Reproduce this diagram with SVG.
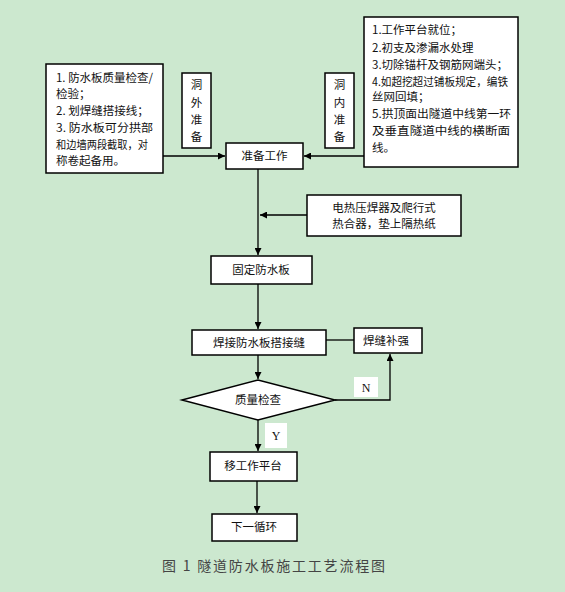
<svg xmlns="http://www.w3.org/2000/svg" width="565" height="592" viewBox="0 0 565 592">
<defs>
<style>
.bx{fill:#fff;stroke:#000;stroke-width:1.5}
.t{font-family:"Noto Sans CJK SC","Noto Sans",sans-serif;font-size:11.5px;fill:#111}
.c{text-anchor:middle}
.ln{fill:none;stroke:#000;stroke-width:1.3}
.lbl{font-family:"Liberation Serif",serif;font-size:12px;fill:#111;text-anchor:middle}
</style>
<marker id="ah" viewBox="0 0 10 10" refX="10" refY="5" markerWidth="7" markerHeight="7" markerUnits="userSpaceOnUse" orient="auto">
<path d="M0,0 L10,5 L0,10 z" fill="#000"/>
</marker>
</defs>
<rect width="565" height="592" fill="#cce8cf"/>

<g id="connectors">
<path class="ln" d="M163,156 H225" marker-end="url(#ah)"/>
<path class="ln" d="M364,156 H304" marker-end="url(#ah)"/>
<path class="ln" d="M258,169 V255" marker-end="url(#ah)"/>
<path class="ln" d="M307,215 H260" marker-end="url(#ah)"/>
<path class="ln" d="M258,284 V329" marker-end="url(#ah)"/>
<path class="ln" d="M258,355 V379" marker-end="url(#ah)"/>
<path class="ln" d="M258,420 V451" marker-end="url(#ah)"/>
<path class="ln" d="M257,481 V513" marker-end="url(#ah)"/>
<path class="ln" d="M326,340 H354"/>
<path class="ln" d="M335,400 H390 V354" marker-end="url(#ah)"/>
<rect x="354" y="377" width="24" height="20" fill="#fff"/>
<text class="lbl" x="366" y="392">N</text>
<rect x="265" y="423" width="22" height="25" fill="#fff"/>
<text class="lbl" x="276" y="440">Y</text>
</g>

<g id="n-left">
<rect class="bx" x="46" y="64" width="117" height="109"/>
<text class="t" x="56" y="82" textLength="97" lengthAdjust="spacingAndGlyphs">1. 防水板质量检查/</text>
<text class="t" x="56" y="98">检验；</text>
<text class="t" x="56" y="115">2. 划焊缝搭接线；</text>
<text class="t" x="56" y="132" textLength="97" lengthAdjust="spacingAndGlyphs">3. 防水板可分拱部</text>
<text class="t" x="56" y="149" textLength="92" lengthAdjust="spacingAndGlyphs">和边墙两段截取，对</text>
<text class="t" x="56" y="165">称卷起备用。</text>
</g>

<g id="n-right">
<rect class="bx" x="364" y="17" width="154" height="150"/>
<text class="t" x="372" y="34">1.工作平台就位；</text>
<text class="t" x="372" y="52">2.初支及渗漏水处理</text>
<text class="t" x="372" y="69">3.切除锚杆及钢筋网端头；</text>
<text class="t" x="372" y="86" textLength="136" lengthAdjust="spacingAndGlyphs">4.如超挖超过铺板规定，编铁</text>
<text class="t" x="372" y="101">丝网回填；</text>
<text class="t" x="372" y="118" textLength="139" lengthAdjust="spacingAndGlyphs">5.拱顶面出隧道中线第一环</text>
<text class="t" x="372" y="135" textLength="138" lengthAdjust="spacingAndGlyphs">及垂直隧道中线的横断面</text>
<text class="t" x="372" y="152">线。</text>
</g>

<g id="n-outside">
<rect class="bx" x="182" y="73" width="29" height="75"/>
<text class="t c" x="196.5" y="89">洞</text>
<text class="t c" x="196.5" y="107">外</text>
<text class="t c" x="196.5" y="124">准</text>
<text class="t c" x="196.5" y="141">备</text>
</g>

<g id="n-inside">
<rect class="bx" x="325" y="73" width="29" height="75"/>
<text class="t c" x="339.5" y="89">洞</text>
<text class="t c" x="339.5" y="107">内</text>
<text class="t c" x="339.5" y="124">准</text>
<text class="t c" x="339.5" y="141">备</text>
</g>

<g id="n-prep">
<rect class="bx" x="226" y="143" width="77" height="26"/>
<text class="t c" x="264.5" y="160">准备工作</text>
</g>

<g id="n-heat">
<rect class="bx" x="307" y="195" width="154" height="41"/>
<text class="t c" x="384" y="212">电热压焊器及爬行式</text>
<text class="t c" x="384" y="228">热合器，垫上隔热纸</text>
</g>

<g id="n-fix">
<rect class="bx" x="211" y="256" width="101" height="28"/>
<text class="t c" x="261" y="274">固定防水板</text>
</g>

<g id="n-weld">
<rect class="bx" x="192" y="330" width="134" height="25"/>
<text class="t c" x="259" y="347">焊接防水板搭接缝</text>
</g>

<g id="n-reinforce">
<rect class="bx" x="354" y="328" width="68" height="25"/>
<text class="t c" x="386" y="345">焊缝补强</text>
</g>

<g id="n-check">
<polygon class="bx" points="182,400 258,380 335,400 258,420"/>
<text class="t c" x="258" y="404">质量检查</text>
</g>

<g id="n-move">
<rect class="bx" x="210" y="452" width="87" height="29"/>
<text class="t c" x="253" y="470">移工作平台</text>
</g>

<g id="n-next">
<rect class="bx" x="212" y="514" width="85" height="27"/>
<text class="t c" x="254" y="531">下一循环</text>
</g>

<text x="162" y="571" font-family="'Noto Sans CJK SC',sans-serif" font-size="14" fill="#444" textLength="223" lengthAdjust="spacing">图 1 隧道防水板施工工艺流程图</text>
</svg>
